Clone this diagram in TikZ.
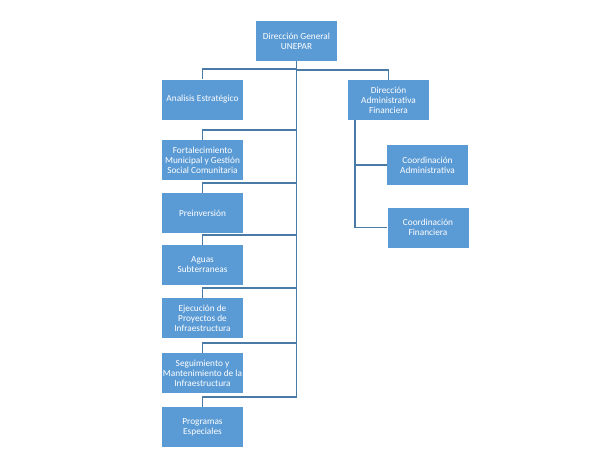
\documentclass[tikz,border=0pt]{standalone}
\usepackage{fontspec}
\setmainfont{Carlito}
\usepackage{xcolor}
\usepackage{tikz}
\definecolor{boxblue}{HTML}{5B9BD5}
\definecolor{lineblue}{HTML}{4A7BA7}
\tikzstyle{unit}=[fill=boxblue, draw=none, shape=rectangle, minimum width=81pt, minimum height=40pt, inner sep=0pt, align=center, text=white, font=\fontsize{9.3}{10}\selectfont]
\tikzstyle{link}=[-, draw=lineblue, line width=1.7pt]
\pgfdeclarelayer{nodelayer}
\pgfdeclarelayer{edgelayer}
\pgfsetlayers{edgelayer,nodelayer,main}

\begin{document}
\begin{tikzpicture}[x=1pt, y=-1pt]
	\useasboundingbox (0, 0) rectangle (610, 472);
	\begin{pgfonlayer}{nodelayer}
		\node [style=unit] (dg) at (296.5, 41) {Dirección General\\UNEPAR};
		\node [style=unit] (ae) at (202.5, 99.5) {Analisis Estratégico};
		\node [style=unit] (daf) at (388.5, 100) {Dirección\\Administrativa\\Financiera};
		\node [style=unit] (fm) at (202.5, 160) {Fortalecimiento\\Municipal y Gestión\\Social Comunitaria};
		\node [style=unit] (pi) at (202.5, 213) {Preinversión};
		\node [style=unit] (as) at (202.5, 265) {Aguas\\Subterraneas};
		\node [style=unit] (ep) at (202.5, 318) {Ejecución de\\Proyectos de\\Infraestructura};
		\node [style=unit] (sm) at (202.5, 373) {Seguimiento y\\Mantenimiento de la\\Infraestructura};
		\node [style=unit] (pe) at (202.5, 427) {Programas\\Especiales};
		\node [style=unit] (ca) at (427.5, 165) {Coordinación\\Administrativa};
		\node [style=unit] (cf) at (428, 227.5) {Coordinación\\Financiera};
	\end{pgfonlayer}
	\begin{pgfonlayer}{edgelayer}
		\draw [style=link] (dg.south) |- ([yshift=10pt]ae.north) -- (ae.north);
		\draw [style=link] (dg.south) |- ([yshift=10pt]daf.north) -- (daf.north);
		\draw [style=link] (dg.south) |- ([yshift=10pt]fm.north) -- (fm.north);
		\draw [style=link] (dg.south) |- ([yshift=10pt]pi.north) -- (pi.north);
		\draw [style=link] (dg.south) |- ([yshift=10pt]as.north) -- (as.north);
		\draw [style=link] (dg.south) |- ([yshift=10pt]ep.north) -- (ep.north);
		\draw [style=link] (dg.south) |- ([yshift=10pt]sm.north) -- (sm.north);
		\draw [style=link] (dg.south) |- ([yshift=10pt]pe.north) -- (pe.north);
		\draw [style=link] ([xshift=7pt]daf.south west) |- (ca.west);
		\draw [style=link] ([xshift=7pt]daf.south west) |- (cf.west);
	\end{pgfonlayer}
\end{tikzpicture}
\end{document}
